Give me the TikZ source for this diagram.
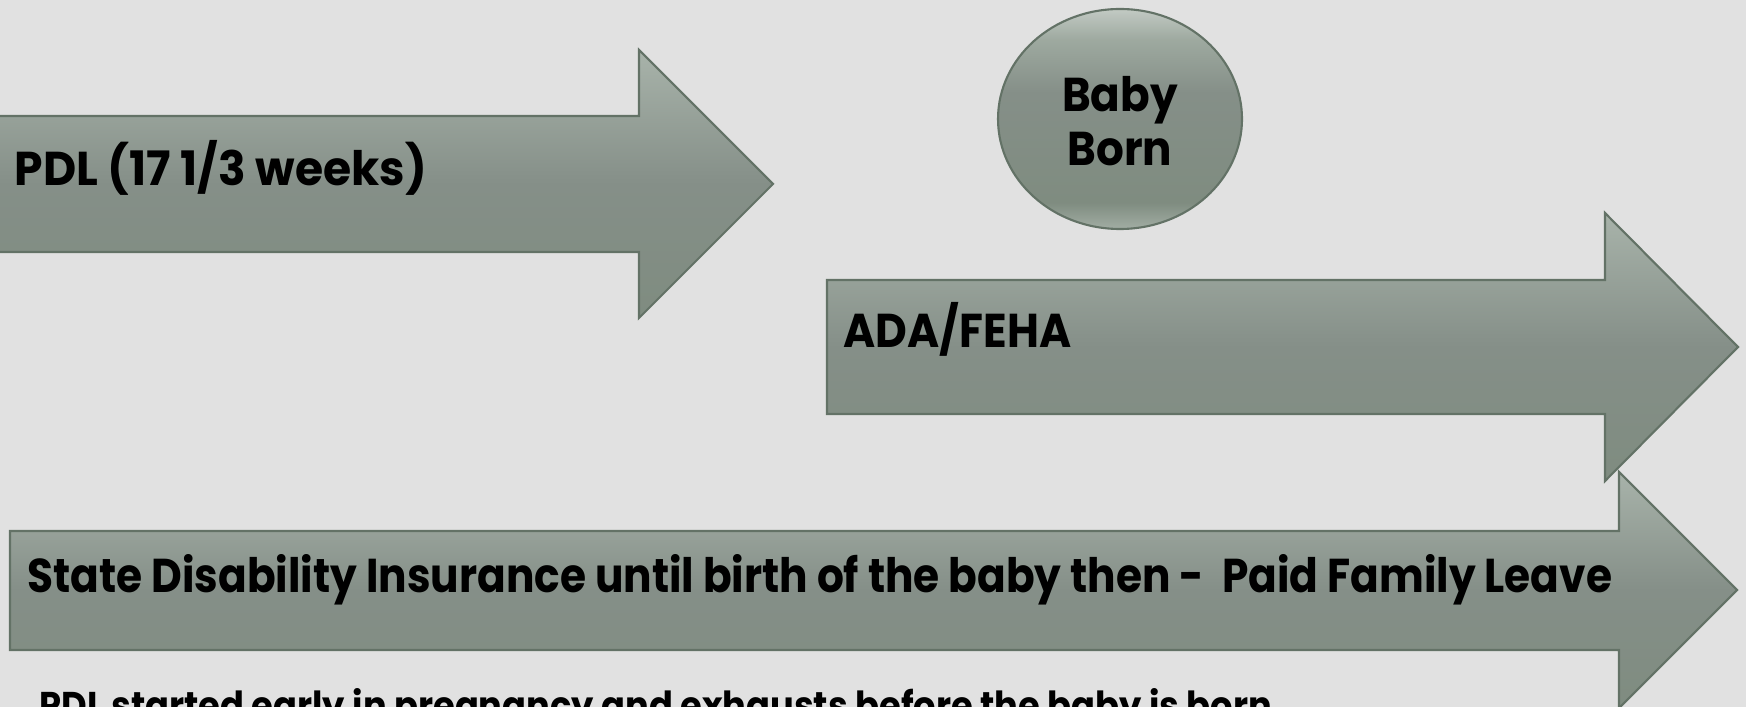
\documentclass[tikz,border=0pt]{standalone}
\usepackage{fontspec}
\setmainfont{Poppins}
\usepackage{tikz}
\usetikzlibrary{calc}
\definecolor{bgGrey}{HTML}{E1E1E1}
\definecolor{arrTop}{HTML}{A8B3AA}
\definecolor{arrMid}{HTML}{858F88}
\definecolor{arrBot}{HTML}{7F8C80}
\definecolor{arrLine}{HTML}{637266}
\pgfdeclareverticalshading{bornShade}{100bp}{color(0bp)=(arrTop!85!arrBot); color(25bp)=(arrTop!85!arrBot);
  color(31bp)=(arrBot); color(56bp)=(arrMid); color(68bp)=(arrTop!75!arrBot); color(75bp)=(arrTop!70!white); color(100bp)=(arrTop!70!white)}

\begin{document}
\begin{tikzpicture}[x=0.01cm,y=-0.01cm,
    bigarrow/.style={draw=arrLine,line width=0.6pt,top color=arrTop,bottom color=arrBot,middle color=arrMid},
    lbl/.style={font=\fontsize{13.5}{15.2}\selectfont\bfseries,inner sep=0pt,xscale=0.92,transform shape}]
  \fill[bgGrey] (0,0) rectangle (1746,707);
  \useasboundingbox (0,0) rectangle (1746,707);
  \clip (0,0) rectangle (1746,707);
  \draw[bigarrow] (-5,116) -- (639,116) -- (639,50) -- (773,184) -- (639,318) -- (639,252) -- (-5,252) -- cycle;
  \draw[bigarrow] (827,280) -- (1605,280) -- (1605,213) -- (1738,347) -- (1605,481) -- (1605,414) -- (827,414) -- cycle;
  \draw[bigarrow] (10,531) -- (1619,531) -- (1619,472) -- (1737,590) -- (1619,708) -- (1619,650) -- (10,650) -- cycle;
  \draw[draw=arrLine,line width=0.6pt,shading=bornShade] (1120,119) ellipse (122 and 110);
  \node[lbl,anchor=base west,xscale=1.045] (pdl) at (14,186) {PDL (17 1/3 weeks)};
  \node[lbl,anchor=base west] (ada) at (843,348) {ADA/FEHA};
  \node[lbl,align=center] (baby) at (1120,121) {Baby\\Born};
  \node[lbl,anchor=base west,xscale=0.968] (sdi) at (27,592) {State Disability Insurance until birth of the baby then -\ \ Paid Family Leave};
  \node[lbl,anchor=base west,xscale=0.99,font=\fontsize{11}{13}\selectfont\bfseries] (note) at (39,719) {PDL started early in pregnancy and exhausts before the baby is born};
\end{tikzpicture}
\end{document}
